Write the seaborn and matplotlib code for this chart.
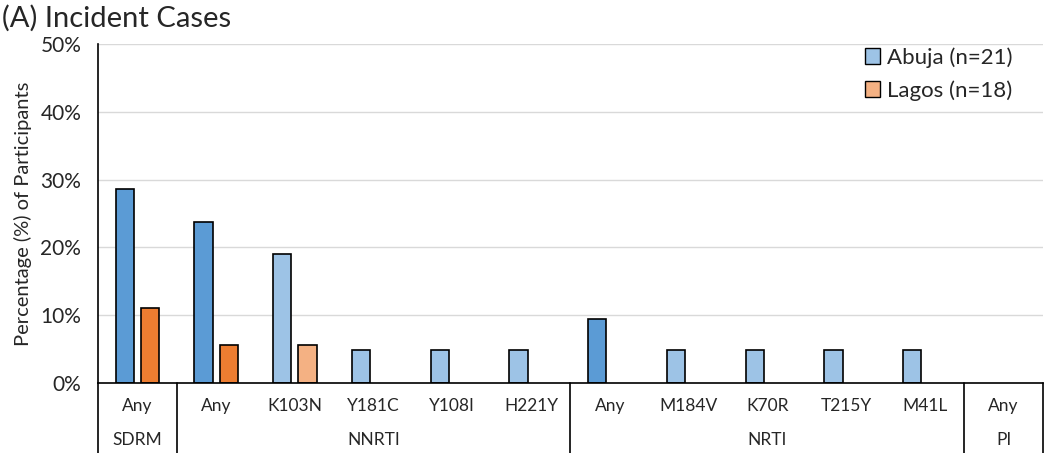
import pandas as pd
import matplotlib.pyplot as plt
from matplotlib.patches import Patch
from matplotlib.ticker import FuncFormatter
import seaborn as sns

# data
groups = ["SDRM", "NNRTI", "NNRTI", "NNRTI", "NNRTI", "NNRTI",
          "NRTI", "NRTI", "NRTI", "NRTI", "NRTI", "PI"]
mutations = ["Any", "Any", "K103N", "Y181C", "Y108I", "H221Y",
             "Any", "M184V", "K70R", "T215Y", "M41L", "Any"]
abuja = [28.6, 23.8, 19.0, 4.8, 4.8, 4.8, 9.5, 4.8, 4.8, 4.8, 4.8, 0.0]
lagos = [11.1, 5.6, 5.6, 0.0, 0.0, 0.0, 0.0, 0.0, 0.0, 0.0, 0.0, 0.0]
sites = ["Abuja (n=21)", "Lagos (n=18)"]

dark = {"Abuja (n=21)": "#5B9BD5", "Lagos (n=18)": "#ED7D31"}
light = {"Abuja (n=21)": "#9DC3E6", "Lagos (n=18)": "#F4B183"}

keys = [f"{g} {m}" for g, m in zip(groups, mutations)]
df = pd.DataFrame({
    "key": keys * 2,
    "site": [sites[0]] * len(keys) + [sites[1]] * len(keys),
    "pct": abuja + lagos,
})

sns.set_style("white")
plt.rcParams["font.family"] = ["Lato", "DejaVu Sans"]

fig = plt.figure(figsize=(10.5, 4.53), dpi=100)
ax = fig.add_axes([0.0933, 0.1545, 0.9, 0.7484])

sns.barplot(data=df, x="key", y="pct", hue="site", order=keys, hue_order=sites,
            width=0.64, gap=0.28, edgecolor="black", linewidth=1.2,
            legend=False, ax=ax)

# "Any" bars darker, individual mutations lighter; zero bars hidden
for i, site in enumerate(sites):
    for j, bar in enumerate(ax.containers[i]):
        bar.set_facecolor(dark[site] if mutations[j] == "Any" else light[site])
        if bar.get_height() == 0:
            bar.set_visible(False)

ax.set_ylim(0, 50)
ax.set_xlim(-0.5, len(keys) - 0.5)
ax.set_yticks(range(0, 51, 10))
ax.yaxis.set_major_formatter(FuncFormatter(lambda v, p: f"{v:.0f}%"))
ax.tick_params(axis="y", labelsize=15, length=0, pad=12)
ax.yaxis.grid(True, color="#D9D9D9", linewidth=1)
ax.set_axisbelow(True)
for s in ["top", "right"]:
    ax.spines[s].set_visible(False)
ax.spines["left"].set_color("black")
ax.spines["bottom"].set_color("black")
ax.spines["left"].set_linewidth(1.2)
ax.spines["bottom"].set_linewidth(1.2)

ax.set_xticks([])
ax.set_xlabel("")
ax.set_ylabel("Percentage (%) of Participants", fontsize=14.5, labelpad=6)

# two-level category axis
tr = ax.get_xaxis_transform()
for j, m in enumerate(mutations):
    ax.text(j, -0.068, m, transform=tr, ha="center", va="center", fontsize=12.5)
bounds = [-0.5]
for j in range(1, len(groups)):
    if groups[j] != groups[j - 1]:
        bounds.append(j - 0.5)
bounds.append(len(groups) - 0.5)
for b in bounds:
    ax.plot([b, b], [0, -0.25], transform=tr, color="black", lw=1.2, clip_on=False)
for a, b in zip(bounds[:-1], bounds[1:]):
    ax.text((a + b) / 2, -0.168, groups[int(a + 0.5)], transform=tr,
            ha="center", va="center", fontsize=12.5)

handles = [Patch(facecolor=light[s], edgecolor="black", label=s) for s in sites]
ax.legend(handles=handles, loc="upper right", bbox_to_anchor=(0.982, 1.03),
          frameon=False, fontsize=16, handlelength=0.7, handleheight=0.7,
          handletextpad=0.3, labelspacing=0.55, borderaxespad=0.2)

fig.text(0.002, 0.99, "(A) Incident Cases", fontsize=21, ha="left", va="top")

fig.savefig("out.png", dpi=100)
